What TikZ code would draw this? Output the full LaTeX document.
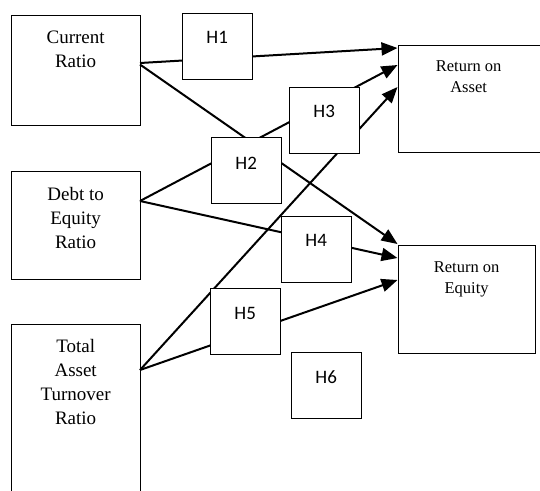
\documentclass[tikz,border=0pt]{standalone}
\usepackage{fontspec}
\setmainfont{Liberation Serif}
\newfontfamily\hfont{Carlito}
\usetikzlibrary{arrows.meta,calc}
\begin{document}
\begin{tikzpicture}[x=1pt,y=-1pt,
  box/.style={draw, line width=1.3pt, fill=white, inner sep=0pt, anchor=north west},
  hbox/.style={draw, line width=1.3pt, fill=white, inner sep=0pt, anchor=north west, minimum width=70pt, minimum height=66pt},
  boxtext/.style={anchor=north, align=center, font=\fontsize{19}{24}\selectfont, inner sep=0pt},
  rtext/.style={anchor=north, align=center, font=\fontsize{16.5}{20.5}\selectfont, inner sep=0pt},
  htext/.style={anchor=north, font=\hfont\fontsize{19}{23}\selectfont, inner sep=0pt},
  conn/.style={line width=2pt, -{Triangle[length=16pt,width=13pt]}}]
\useasboundingbox (0,0) rectangle (540,490);
\clip (0,0) rectangle (540,490);
\fill[white] (0,0) rectangle (540,490);
% main boxes
\node[box, minimum width=129pt, minimum height=110pt] (cr) at (10.5,14.5) {};
\node[box, minimum width=129pt, minimum height=108pt] (de) at (10.5,170.5) {};
\node[box, minimum width=129pt, minimum height=200pt] (ta) at (10.5,323.5) {};
\node[box, minimum width=145pt, minimum height=107pt] (roa) at (397.5,44.5) {};
\node[box, minimum width=137pt, minimum height=108pt] (roe) at (397.5,244.5) {};
\node[boxtext] (crt) at ($(cr.north)+(0,16)$) {Current\\Ratio};
\node[boxtext] (det) at ($(de.north)+(0,16.5)$) {Debt to\\Equity\\Ratio};
\node[boxtext] (tat) at ($(ta.north)+(0,16)$) {Total\\Asset\\Turnover\\Ratio};
\node[rtext] (roat) at ($(roa.north)+(-2,16)$) {Return on\\Asset};
\node[rtext] (roet) at ($(roe.north)+(0,17)$) {Return on\\Equity};
% connector end points
\coordinate (crA) at (140,63);
\coordinate (crB) at (140,64.5);
\coordinate (deA) at (140,201);
\coordinate (taA) at (140,370);
\coordinate (roa1) at (397.5,48);
\coordinate (roa2) at (397.5,65);
\coordinate (roa3) at (397.5,87);
\coordinate (roe1) at (397.5,244);
\coordinate (roe2) at (397.5,258);
\coordinate (roe3) at (397.5,280);
\draw[conn] (crA) -- (roa1);
\draw[conn] (crB) -- (roe1);
\draw[conn] (deA) -- (roa2);
\draw[conn] (deA) -- (roe2);
\draw[conn] (taA) -- (roa3);
\draw[conn] (taA) -- (roe3);
% hypothesis boxes
\node[hbox] (h1) at (181.5,12.5) {};
\node[hbox] (h2) at (210.5,136.5) {};
\node[hbox] (h3) at (288.5,86.5) {};
\node[hbox] (h4) at (280.5,215.5) {};
\node[hbox] (h5) at (209.5,287.5) {};
\node[hbox] (h6) at (290.5,351.5) {};
\node[htext] (h1t) at ($(h1.north)+(0,19)$) {H1};
\node[htext] (h2t) at ($(h2.north)+(0,20)$) {H2};
\node[htext] (h3t) at ($(h3.north)+(0,18)$) {H3};
\node[htext] (h4t) at ($(h4.north)+(0,19)$) {H4};
\node[htext] (h5t) at ($(h5.north)+(0,20)$) {H5};
\node[htext] (h6t) at ($(h6.north)+(0,19)$) {H6};
\end{tikzpicture}
\end{document}
